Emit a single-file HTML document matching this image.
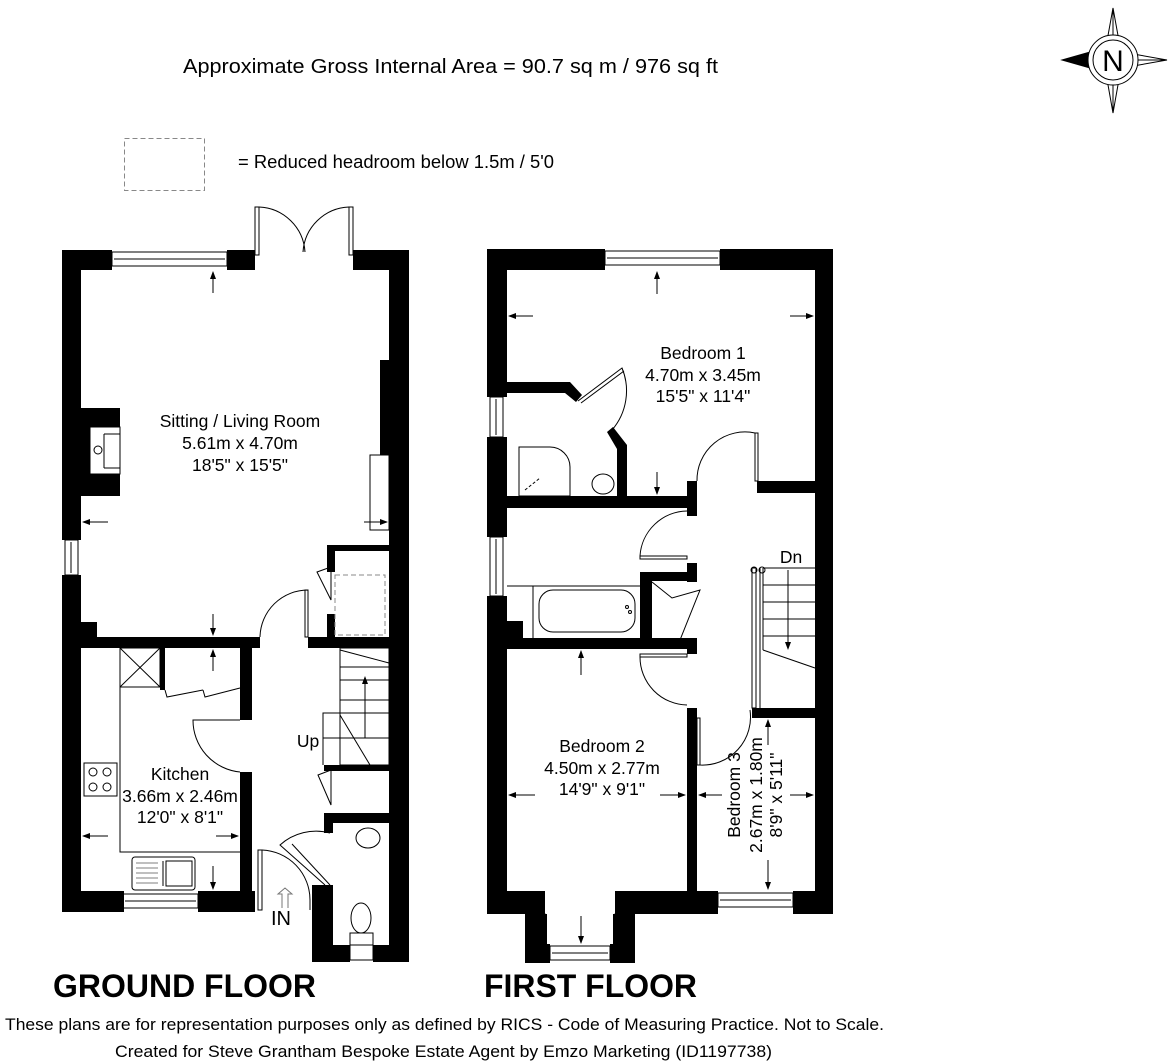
<!DOCTYPE html>
<html><head><meta charset="utf-8"><style>
html,body{margin:0;padding:0;background:#fff;}
svg{display:block;}
text{font-family:"Liberation Sans",Arial,sans-serif;fill:#000;}
</style></head><body>
<svg width="1176" height="1064" viewBox="0 0 1176 1064" xmlns="http://www.w3.org/2000/svg">
<text x="183" y="73" font-size="20" textLength="535" lengthAdjust="spacingAndGlyphs">Approximate Gross Internal Area = 90.7 sq m / 976 sq ft</text>
<rect x="124.5" y="138.5" width="80" height="52" fill="none" stroke="#888" stroke-width="1" stroke-dasharray="5,3"/>
<text x="238" y="168" font-size="18" textLength="316" lengthAdjust="spacingAndGlyphs">= Reduced headroom below 1.5m / 5'0</text>

<!-- compass -->
<g stroke="#000" stroke-width="1" fill="#fff">
<polygon points="1113,8 1121,52 1105,52"/>
<polygon points="1113,113 1121,68 1105,68"/>
<polygon points="1167,60 1122,52 1122,68"/>
<line x1="1113" y1="8" x2="1113" y2="113"/><line x1="1113" y1="60" x2="1167" y2="60"/>
<polygon points="1062,60 1104,48 1104,72" fill="#000"/>
<circle cx="1113" cy="60" r="25"/><circle cx="1113" cy="60" r="20"/>
</g>
<text x="1113" y="71" font-size="30" text-anchor="middle">N</text>

<g fill="#000">
<rect x="62" y="250" width="50" height="20"/>
<rect x="227" y="250" width="28" height="20"/>
<rect x="353" y="250" width="56" height="20"/>
<rect x="62" y="250" width="19" height="290"/>
<rect x="62" y="575" width="19" height="337"/>
<rect x="81" y="408" width="39" height="88"/>
<rect x="81" y="622" width="16" height="20"/>
<rect x="389" y="250" width="20" height="712"/>
<rect x="380" y="360" width="10" height="95"/>
<rect x="62" y="637" width="198" height="11"/>
<rect x="308" y="637" width="81" height="11"/>
<rect x="327" y="545" width="62" height="6"/>
<rect x="327" y="545" width="8" height="27"/>
<rect x="327" y="614" width="8" height="26"/>
<rect x="62" y="891" width="62" height="21"/>
<rect x="198" y="891" width="57" height="21"/>
<rect x="240" y="648" width="12" height="72"/>
<rect x="240" y="772" width="12" height="140"/>
<rect x="160" y="648" width="5" height="42"/>
<rect x="324" y="765" width="66" height="6"/>
<rect x="324" y="813" width="66" height="10"/>
<rect x="324" y="813" width="9" height="20"/>
<rect x="312" y="885" width="21" height="77"/>
<rect x="312" y="945" width="38" height="17"/>
<rect x="373" y="945" width="36" height="17"/>
<rect x="487" y="249" width="118" height="21"/>
<rect x="720" y="249" width="113" height="21"/>
<rect x="487" y="249" width="20" height="148"/>
<rect x="487" y="437" width="20" height="100"/>
<rect x="487" y="596" width="20" height="318"/>
<rect x="815" y="249" width="18" height="665"/>
<rect x="507" y="496" width="190" height="12"/>
<rect x="687" y="481" width="10" height="35"/>
<rect x="757" y="481" width="58" height="12"/>
<polygon points="507,382 570,382 582,395 576,402 565,393 507,393"/>
<polygon points="607,432 613,427 627,445 627,496 617,496 617,449"/>
<rect x="507" y="621" width="16" height="17"/>
<rect x="507" y="638" width="190" height="11"/>
<rect x="687" y="563" width="10" height="19"/>
<rect x="640" y="572" width="57" height="9"/>
<rect x="640" y="572" width="12" height="70"/>
<rect x="687" y="638" width="10" height="16"/>
<rect x="687" y="708" width="10" height="206"/>
<rect x="752" y="708" width="81" height="10"/>
<rect x="487" y="891" width="58" height="23"/>
<rect x="615" y="891" width="103" height="23"/>
<rect x="793" y="891" width="40" height="23"/>
<rect x="525" y="914" width="22" height="48"/>
<rect x="613" y="914" width="22" height="48"/>
<rect x="525" y="944" width="25" height="19"/>
<rect x="610" y="944" width="25" height="19"/>
</g>

<g fill="none" stroke="#000" stroke-width="1">
<rect x="112" y="252" width="115" height="14"/><line x1="114" y1="259" x2="225" y2="259"/>
<rect x="123" y="894" width="75" height="14"/><line x1="125" y1="901" x2="196" y2="901"/>
<rect x="65" y="540" width="13" height="35"/><line x1="71" y1="542" x2="71" y2="573"/>
<rect x="255" y="207" width="4" height="48"/><rect x="349" y="207" width="4" height="48"/>
<path d="M259,207 A48,48 0 0 1 305,252"/><path d="M349,207 A48,48 0 0 0 303,252"/>
<rect x="90" y="427" width="30" height="47" fill="#fff"/><circle cx="98" cy="450" r="4"/><line x1="104" y1="434" x2="120" y2="434"/><line x1="104" y1="434" x2="104" y2="468"/><line x1="104" y1="468" x2="120" y2="468"/>
<rect x="370" y="455" width="19" height="75"/>
<path d="M260,637 A48,48 0 0 1 308,590 L308,637"/><rect x="305" y="590" width="3" height="47"/>
<rect x="335" y="575" width="50" height="60" stroke="#888" stroke-dasharray="5,3"/>
<path d="M317,572 L331,567 L331,600 Z"/>
<polyline points="120,648 120,852 243,852"/>
<rect x="120" y="648" width="40" height="39"/><line x1="120" y1="648" x2="160" y2="687"/><line x1="160" y1="648" x2="120" y2="687"/>
<polyline points="165,690 167,697 203,690"/><polyline points="203,690 205,697 240,688"/>
<path d="M240,720 L193,720 A52,52 0 0 0 240,772"/>
<rect x="84" y="763" width="33" height="33"/>
<circle cx="93" cy="772" r="4"/><circle cx="107" cy="772" r="4"/><circle cx="93" cy="787" r="4"/><circle cx="107" cy="787" r="4"/>
<rect x="132" y="857" width="63" height="33" rx="3"/><rect x="166" y="861" width="26" height="25"/><line x1="163" y1="861" x2="163" y2="886"/>
<g stroke-width="0.6"><line x1="136" y1="863" x2="158" y2="863"/><line x1="136" y1="868" x2="158" y2="868"/><line x1="136" y1="873" x2="158" y2="873"/><line x1="136" y1="878" x2="158" y2="878"/><line x1="136" y1="883" x2="158" y2="883"/></g>
<rect x="340" y="648" width="49" height="117"/>
<polyline points="340,713 323,713 323,765"/>
<line x1="340" y1="667" x2="389" y2="667"/><line x1="340" y1="680" x2="389" y2="680"/><line x1="340" y1="700" x2="389" y2="700"/><line x1="340" y1="713" x2="389" y2="713"/><line x1="323" y1="738" x2="389" y2="738"/>
<line x1="340" y1="650" x2="389" y2="663"/><line x1="340" y1="715" x2="370" y2="765"/>
<polyline points="365,680 365,738 340,738"/>
<path d="M318,775 L331,770 L331,805 Z"/>
<path d="M330,833 A54,54 0 0 0 280,845 L325,885" /><line x1="292" y1="844" x2="330" y2="885"/>
<ellipse cx="368" cy="838" rx="12" ry="10"/><ellipse cx="361" cy="918" rx="10" ry="15"/><rect x="350" y="933" width="23" height="12"/><rect x="350" y="945" width="23" height="15"/>
<rect x="258" y="850" width="4" height="60"/><path d="M262,850 A50,50 0 0 1 310,900 L310,910"/>
<path d="M282,908 L282,894 L278,894 L285,888 L292,894 L288,894 L288,908" stroke="#777"/>
<line x1="213" y1="272" x2="213" y2="293"/><line x1="213" y1="614" x2="213" y2="634"/><line x1="213" y1="651" x2="213" y2="671"/><line x1="213" y1="866" x2="213" y2="888"/>
<line x1="83" y1="522" x2="108" y2="522"/><line x1="364" y1="522" x2="387" y2="522"/><line x1="83" y1="836" x2="108" y2="836"/><line x1="216" y1="836" x2="238" y2="836"/>

<rect x="605" y="251" width="115" height="14"/><line x1="607" y1="258" x2="718" y2="258"/>
<rect x="718" y="893" width="75" height="14"/><line x1="720" y1="900" x2="791" y2="900"/>
<rect x="550" y="946" width="60" height="14"/><line x1="552" y1="953" x2="608" y2="953"/>
<rect x="490" y="397" width="13" height="40"/><line x1="496" y1="399" x2="496" y2="435"/>
<rect x="490" y="537" width="13" height="59"/><line x1="496" y1="539" x2="496" y2="594"/>
<rect x="530" y="914" width="15" height="36"/><line x1="537" y1="916" x2="537" y2="948"/>
<rect x="615" y="914" width="15" height="36"/><line x1="622" y1="916" x2="622" y2="948"/>
<path d="M578,401 L622,368 A60,60 0 0 1 612,430"/><line x1="581" y1="403" x2="624" y2="371"/>
<path d="M519,447 L550,447 A20,20 0 0 1 570,467 L570,496 L519,496 Z"/><line x1="525" y1="490" x2="540" y2="478" stroke-dasharray="3,2"/>
<ellipse cx="603" cy="484" rx="11" ry="10"/>
<path d="M697,481 A48,48 0 0 1 755,433 L755,481"/><rect x="755" y="433" width="3" height="48"/>
<line x1="507" y1="586" x2="640" y2="586"/><line x1="533" y1="586" x2="533" y2="638"/>
<rect x="539" y="590" width="96" height="42" rx="14"/><circle cx="627" cy="607" r="1.5"/><circle cx="630" cy="612" r="1.5"/>
<path d="M640,556 A48,48 0 0 1 687,511"/><line x1="640" y1="556" x2="687" y2="556"/><rect x="640" y="556" width="47" height="3"/>
<path d="M652,582 L672,598 L700,590 L680,640"/>
<path d="M640,657 A48,48 0 0 0 687,705"/><rect x="640" y="654" width="47" height="3"/>
<path d="M700,718 L700,765 A48,48 0 0 0 750,710"/><rect x="697" y="718" width="3" height="47"/>
<rect x="752" y="568" width="4" height="140"/><line x1="760" y1="568" x2="760" y2="708"/>
<circle cx="754" cy="570" r="3"/><circle cx="762" cy="570" r="3"/>
<polyline points="763,568 815,568"/>
<line x1="763" y1="568" x2="763" y2="650"/>
<line x1="763" y1="585" x2="815" y2="585"/><line x1="763" y1="602" x2="815" y2="602"/><line x1="763" y1="619" x2="815" y2="619"/><line x1="763" y1="636" x2="815" y2="636"/>
<line x1="763" y1="650" x2="815" y2="668"/>
<line x1="788" y1="570" x2="788" y2="648"/>
<line x1="657" y1="272" x2="657" y2="294"/><line x1="657" y1="472" x2="657" y2="494"/><line x1="581" y1="651" x2="581" y2="675"/><line x1="581" y1="916" x2="581" y2="943"/>
<line x1="509" y1="316" x2="533" y2="316"/><line x1="790" y1="316" x2="813" y2="316"/>
<line x1="509" y1="795" x2="535" y2="795"/><line x1="660" y1="795" x2="685" y2="795"/>
<line x1="699" y1="795" x2="722" y2="795"/><line x1="790" y1="795" x2="813" y2="795"/>
<line x1="768" y1="720" x2="768" y2="745"/><line x1="768" y1="860" x2="768" y2="889"/>
</g>
<g fill="#000">
<polygon points="213,271 210,279 216,279"/><polygon points="213,636 210,628 216,628"/><polygon points="213,649 210,657 216,657"/><polygon points="213,890 210,882 216,882"/>
<polygon points="82,522 90,519 90,525"/><polygon points="388,522 380,519 380,525"/><polygon points="82,836 90,833 90,839"/><polygon points="239,836 231,833 231,839"/>
<polygon points="365,676 362,684 368,684"/>
<polygon points="657,271 654,279 660,279"/><polygon points="657,495 654,487 660,487"/><polygon points="581,650 578,658 584,658"/><polygon points="581,944 578,936 584,936"/>
<polygon points="508,316 516,313 516,319"/><polygon points="814,316 806,313 806,319"/>
<polygon points="508,795 516,792 516,798"/><polygon points="686,795 678,792 678,798"/>
<polygon points="698,795 706,792 706,798"/><polygon points="814,795 806,792 806,798"/>
<polygon points="768,719 765,727 771,727"/><polygon points="768,890 765,882 771,882"/>
<polygon points="788,650 785,642 791,642"/>
</g>

<g font-size="17.5" text-anchor="middle">
<text x="240" y="427">Sitting / Living Room</text>
<text x="240" y="449">5.61m x 4.70m</text>
<text x="240" y="471">18'5" x 15'5"</text>
<text x="180" y="780">Kitchen</text>
<text x="180" y="802">3.66m x 2.46m</text>
<text x="180" y="823">12'0" x 8'1"</text>
<text x="703" y="359">Bedroom 1</text>
<text x="703" y="381">4.70m x 3.45m</text>
<text x="703" y="402">15'5" x 11'4"</text>
<text x="602" y="752">Bedroom 2</text>
<text x="602" y="774">4.50m x 2.77m</text>
<text x="602" y="795">14'9" x 9'1"</text>
<text x="308" y="747">Up</text>
<text x="791" y="563">Dn</text>
<text x="281" y="925" font-size="20">IN</text>
<text transform="translate(740,795) rotate(-90)">Bedroom 3</text>
<text transform="translate(762,795) rotate(-90)">2.67m x 1.80m</text>
<text transform="translate(782,795) rotate(-90)">8'9" x 5'11"</text>
</g>
<text x="53" y="997" font-size="32" font-weight="bold" textLength="263" lengthAdjust="spacingAndGlyphs">GROUND FLOOR</text>
<text x="484" y="997" font-size="32" font-weight="bold" textLength="213" lengthAdjust="spacingAndGlyphs">FIRST FLOOR</text>
<text x="5" y="1030" font-size="17" textLength="879" lengthAdjust="spacingAndGlyphs">These plans are for representation purposes only as defined by RICS - Code of Measuring Practice. Not to Scale.</text>
<text x="115" y="1057" font-size="17" textLength="657" lengthAdjust="spacingAndGlyphs">Created for Steve Grantham Bespoke Estate Agent by Emzo Marketing (ID1197738)</text>
</svg>
</body></html>
